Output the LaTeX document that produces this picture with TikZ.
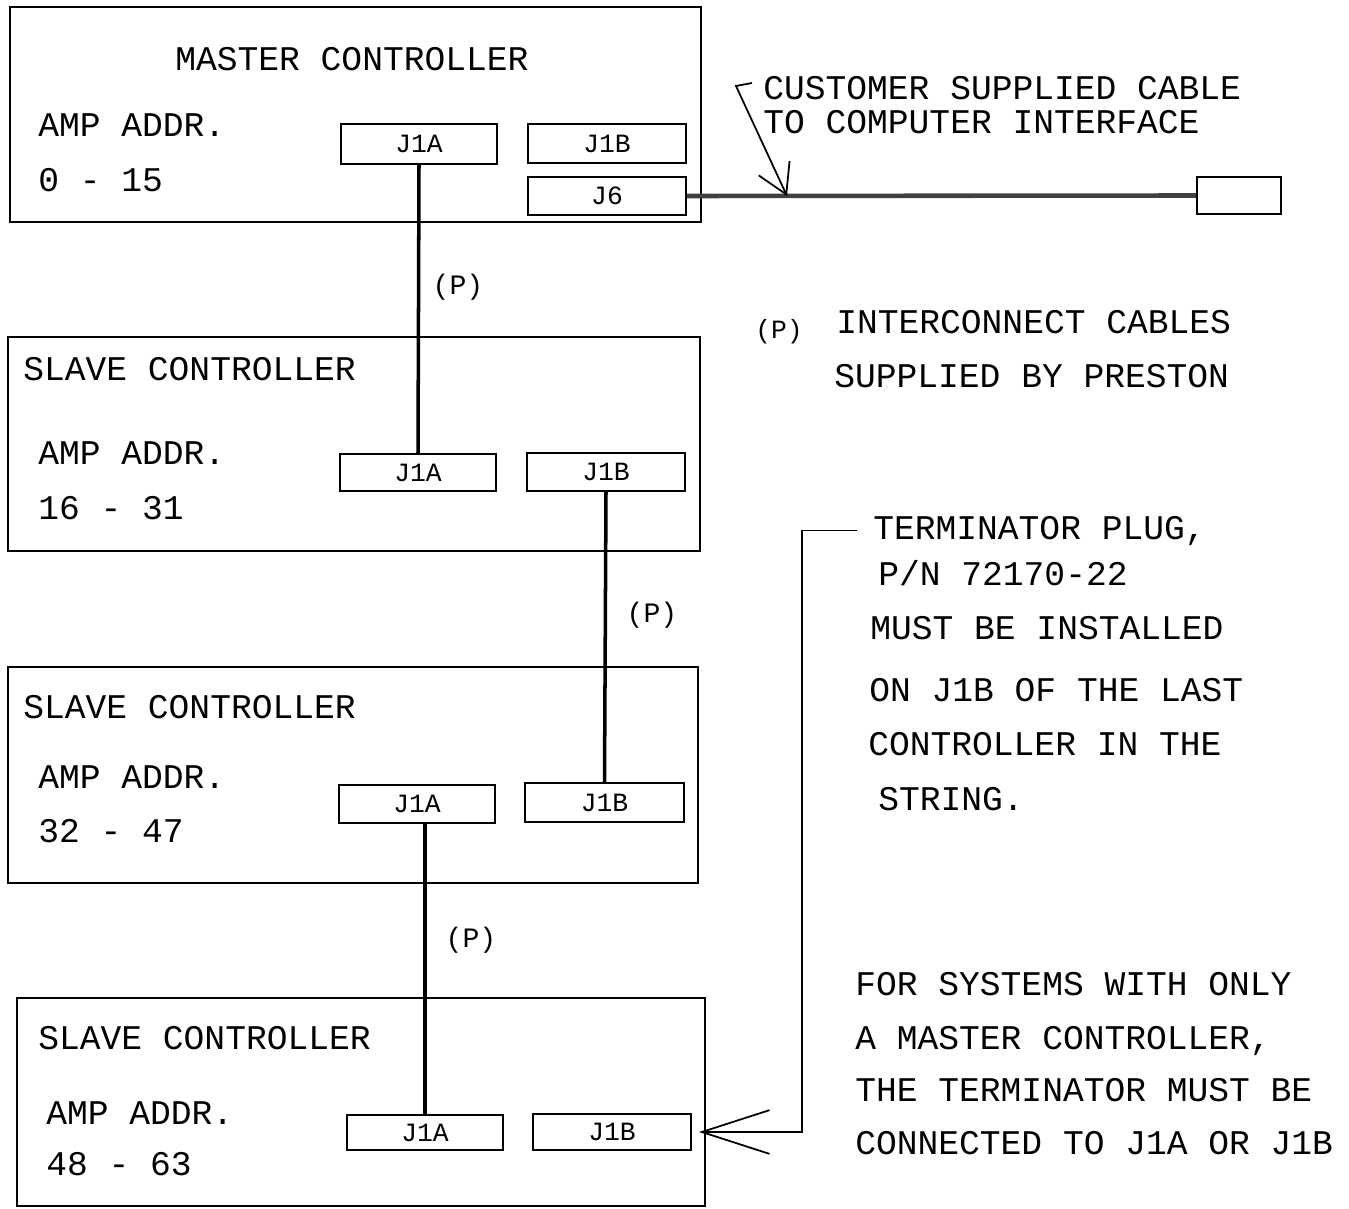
\documentclass[tikz,border=0pt]{standalone}
\usepackage{fontspec}
\setmainfont{Liberation Mono}
\usetikzlibrary{arrows.meta}
\newlength\pxu
\setlength\pxu{0.02cm}

\tikzset{
  ctrl/.style={draw, line width=1.1pt, inner sep=0},
  jack/.style={draw, line width=1.1pt, inner sep=0, font=\fontsize{15pt}{15pt}\selectfont},
  txt/.style={anchor=base west, inner sep=0, font=\fontsize{19.7pt}{20pt}\selectfont},
  plab/.style={inner sep=0, font=\fontsize{16pt}{16pt}\selectfont},
  cable/.style={line width=2pt},
  lead/.style={line width=1pt},
}

\begin{document}
\begin{tikzpicture}[x=\pxu,y=-\pxu]
\useasboundingbox (0,0) rectangle (1349,1209);

% controller boxes
\node[ctrl, minimum width=691\pxu, minimum height=215\pxu] (master) at (355.5,114.5) {};
\node[ctrl, minimum width=692\pxu, minimum height=214\pxu] (slave1) at (354,444) {};
\node[ctrl, minimum width=690\pxu, minimum height=216\pxu] (slave2) at (353,775) {};
\node[ctrl, minimum width=688\pxu, minimum height=208\pxu] (slave3) at (361,1102) {};

% box texts
\node[txt] (mname) at (175,71) {MASTER CONTROLLER};
\node[txt] (maddr) at (38,137) {AMP ADDR.};
\node[txt] (mrange) at (38,192) {0 - 15};
\node[txt] (s1name) at (23,381) {SLAVE CONTROLLER};
\node[txt] (s1addr) at (38,464) {AMP ADDR.};
\node[txt] (s1range) at (38,519) {16 - 31};
\node[txt] (s2name) at (23,718) {SLAVE CONTROLLER};
\node[txt] (s2addr) at (38,788) {AMP ADDR.};
\node[txt] (s2range) at (38,842) {32 - 47};
\node[txt] (s3name) at (38,1049) {SLAVE CONTROLLER};
\node[txt] (s3addr) at (46,1124) {AMP ADDR.};
\node[txt] (s3range) at (46,1175) {48 - 63};

% jacks
\node[jack, minimum width=156\pxu, minimum height=40\pxu] (mJ1A) at (419,144) {J1A};
\node[jack, minimum width=158\pxu, minimum height=39\pxu] (mJ1B) at (607,143.5) {J1B};
\node[jack, minimum width=158\pxu, minimum height=38\pxu] (mJ6) at (607,196) {J6};
\node[jack, minimum width=156\pxu, minimum height=37\pxu] (s1J1A) at (418,472.5) {J1A};
\node[jack, minimum width=158\pxu, minimum height=38\pxu] (s1J1B) at (606,472) {J1B};
\node[jack, minimum width=156\pxu, minimum height=38\pxu] (s2J1A) at (417,804) {J1A};
\node[jack, minimum width=159\pxu, minimum height=39\pxu] (s2J1B) at (604.5,802.5) {J1B};
\node[jack, minimum width=156\pxu, minimum height=35\pxu] (s3J1A) at (425,1132.5) {J1A};
\node[jack, minimum width=158\pxu, minimum height=36\pxu] (s3J1B) at (612,1132) {J1B};

% plug at the end of the customer cable
\node[ctrl, minimum width=84\pxu, minimum height=37\pxu] (plug) at (1239,195.5) {};

% interconnect cables
\draw[cable] (mJ1A.south) -- (s1J1A.north);
\draw[cable] (s1J1B.south) -- (s2J1B.north);
\draw[cable] (s3J1A.north |- s2J1A.south) -- (s3J1A.north);
\node[plab] (p1) at (458,287) {(P)};
\node[plab] (p2) at (652,615) {(P)};
\node[plab] (p3) at (471,940) {(P)};

% customer cable
\draw[line width=2.6pt, black!75] (mJ6.east) -- (plug.west);
\node[txt] (cust1) at (763,100) {CUSTOMER SUPPLIED CABLE};
\node[txt] (cust2) at (763,134) {TO COMPUTER INTERFACE};
\coordinate (custhook) at (736,86);
\coordinate (custtip) at (787,196);
\draw[lead, -{Straight Barb[length=16.4pt, width=19.3pt]}]
  (752,83) -- (custhook) -- (custtip);

% legend
\node[plab, font=\fontsize{15pt}{15pt}\selectfont] (pkey) at (779,332) {(P)};
\node[txt] (key1) at (836,334) {INTERCONNECT CABLES};
\node[txt] (key2) at (834,388) {SUPPLIED BY PRESTON};

% terminator note
\node[txt] (term1) at (873,539) {TERMINATOR PLUG,};
\node[txt] (term2) at (878,585) {P/N 72170-22};
\node[txt] (term3) at (870,639) {MUST BE INSTALLED};
\node[txt] (term4) at (869,701) {ON J1B OF THE LAST};
\node[txt] (term5) at (868,755) {CONTROLLER IN THE};
\node[txt] (term6) at (878,810) {STRING.};
\draw[lead, -{Straight Barb[length=38.5pt, width=24.9pt]}]
  (term1.west) ++(-16,0) -- ++(-55,0) |- ([xshift=7\pxu]s3J1B.east);

\node[txt] (only1) at (855,995) {FOR SYSTEMS WITH ONLY};
\node[txt] (only2) at (855,1049) {A MASTER CONTROLLER,};
\node[txt] (only3) at (855,1101) {THE TERMINATOR MUST BE};
\node[txt] (only4) at (855,1154) {CONNECTED TO J1A OR J1B};
\end{tikzpicture}
\end{document}
